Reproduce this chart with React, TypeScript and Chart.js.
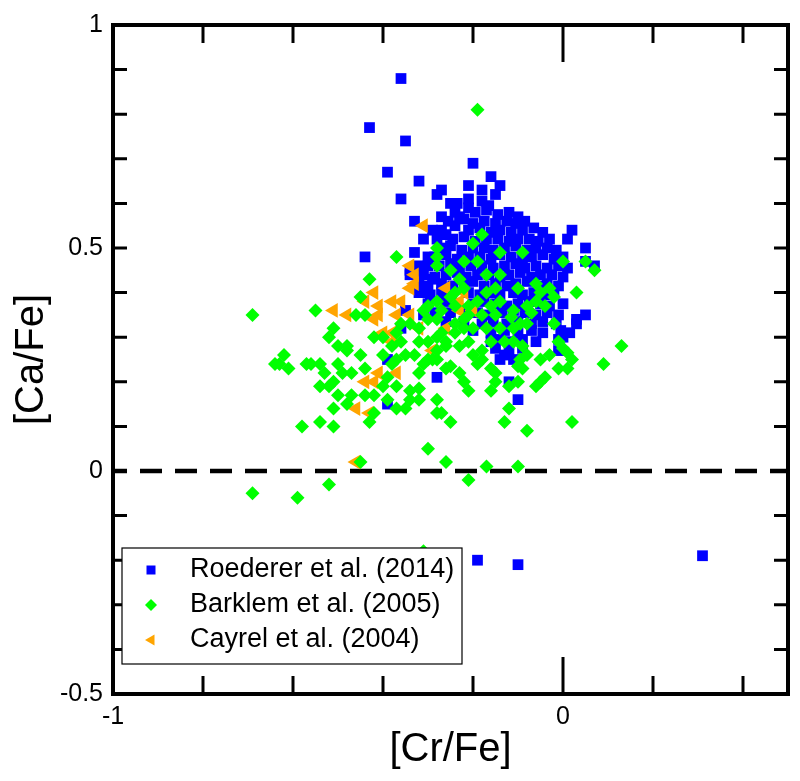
import React, { useEffect, useRef } from 'react';
import { Chart, registerables } from 'chart.js';

Chart.register(...registerables);

const FONT = '"Liberation Sans", Arial, Helvetica, sans-serif';

const seriesNames = ['Roederer et al. (2014)', 'Barklem et al. (2005)', 'Cayrel et al. (2004)'];
const seriesColors = ['#0000ff', '#00ff00', '#ffa500'];
const xTitle = '[Cr/Fe]';
const yTitle = '[Ca/Fe]';
const xTickLabels = ['-1', '0'];
const yTickLabels = ['-0.5', '0', '0.5', '1'];
const xMajorTicks = [-1, 0];
const xMinorTicks = [-0.8, -0.6, -0.4, -0.2, 0.2, 0.4];
const yMinorTicks = [-0.4, -0.3, -0.2, -0.1, 0, 0.1, 0.2, 0.3, 0.4, 0.5, 0.6, 0.7, 0.8, 0.9];
const zeroLine: [number, number][] = [[-1, 0], [0.5, 0]];

const roederer: [number, number][] = [
  [-0.36, 0.88], [-0.43, 0.77], [-0.35, 0.74], [-0.39, 0.67], [-0.20, 0.69], [-0.32, 0.65], [-0.36, 0.61],
  [-0.16, 0.66], [-0.14, 0.64], [-0.33, 0.56], [-0.44, 0.48], [-0.27, 0.57], [-0.28, 0.62], [-0.27, 0.63],
  [-0.21, 0.64], [-0.18, 0.63], [-0.15, 0.62], [-0.25, 0.60], [-0.24, 0.58], [-0.21, 0.59], [-0.21, 0.61],
  [0.02, 0.54], [0.05, 0.50], [0.07, 0.46], [0.05, 0.47], [0.01, 0.52], [0.05, 0.35], [0.03, 0.33],
  [-0.19, -0.20], [-0.10, -0.21], [0.31, -0.19],
  [-0.10, 0.16], [-0.12, 0.20], [-0.28, 0.21], [-0.11, 0.25], [-0.14, 0.25], [-0.01, 0.27], [0.0, 0.30],
  [-0.35, 0.36], [-0.36, 0.32], [-0.39, 0.25], [-0.39, 0.15], [-0.31, 0.35], [-0.34, 0.45], [-0.32, 0.40],
  [-0.29, 0.54], [-0.31, 0.52], [-0.33, 0.49], [-0.30, 0.48], [-0.34, 0.44], [-0.32, 0.46], [-0.31, 0.40],
  [-0.29, 0.43], [-0.26, 0.53], [-0.24, 0.55], [-0.23, 0.57],
  [-0.235, 0.60], [-0.18, 0.605], [-0.165, 0.595],
  [-0.195, 0.58], [-0.17, 0.585], [-0.145, 0.575], [-0.12, 0.58], [-0.10, 0.57],
  [-0.255, 0.56], [-0.22, 0.565], [-0.20, 0.555], [-0.175, 0.56], [-0.15, 0.555], [-0.125, 0.56], [-0.105, 0.555], [-0.085, 0.56],
  [-0.27, 0.54], [-0.21, 0.54], [-0.185, 0.545], [-0.16, 0.535], [-0.14, 0.54], [-0.115, 0.535], [-0.09, 0.54], [-0.065, 0.545], [-0.045, 0.535],
  [-0.28, 0.52], [-0.245, 0.52], [-0.22, 0.525], [-0.195, 0.515], [-0.17, 0.52], [-0.145, 0.52], [-0.12, 0.515], [-0.10, 0.52], [-0.075, 0.52], [-0.055, 0.515], [-0.03, 0.52],
  [-0.27, 0.50], [-0.25, 0.505], [-0.225, 0.495], [-0.20, 0.50], [-0.175, 0.50], [-0.155, 0.495], [-0.13, 0.50], [-0.105, 0.505], [-0.08, 0.495], [-0.06, 0.50], [-0.035, 0.50], [-0.015, 0.495],
  [-0.285, 0.48], [-0.26, 0.485], [-0.235, 0.475], [-0.21, 0.48], [-0.185, 0.48], [-0.16, 0.475], [-0.14, 0.485], [-0.115, 0.48], [-0.09, 0.475], [-0.07, 0.48], [-0.045, 0.485], [-0.02, 0.475], [0.0, 0.48],
  [-0.30, 0.46], [-0.275, 0.46], [-0.25, 0.465], [-0.23, 0.455], [-0.205, 0.46], [-0.18, 0.46], [-0.155, 0.455], [-0.13, 0.46], [-0.105, 0.465], [-0.085, 0.455], [-0.06, 0.46], [-0.035, 0.455], [-0.01, 0.46], [0.01, 0.455],
  [-0.31, 0.44], [-0.285, 0.435], [-0.26, 0.44], [-0.235, 0.445], [-0.215, 0.435], [-0.19, 0.44], [-0.165, 0.44], [-0.14, 0.435], [-0.12, 0.44], [-0.095, 0.445], [-0.07, 0.435], [-0.05, 0.44], [-0.025, 0.44], [0.0, 0.435],
  [-0.32, 0.42], [-0.30, 0.415], [-0.27, 0.42], [-0.245, 0.415], [-0.22, 0.42], [-0.20, 0.425], [-0.175, 0.415], [-0.15, 0.42], [-0.125, 0.415], [-0.105, 0.42], [-0.08, 0.425], [-0.055, 0.415], [-0.035, 0.42], [-0.01, 0.415],
  [-0.295, 0.395], [-0.27, 0.40], [-0.25, 0.395], [-0.21, 0.40], [-0.185, 0.395], [-0.16, 0.40], [-0.14, 0.395], [-0.11, 0.40], [-0.09, 0.395], [-0.065, 0.40], [-0.04, 0.395], [-0.02, 0.40],
  [-0.30, 0.375], [-0.26, 0.38], [-0.235, 0.375], [-0.20, 0.375], [-0.175, 0.38], [-0.15, 0.375], [-0.125, 0.37], [-0.10, 0.375], [-0.075, 0.38], [-0.05, 0.375], [-0.03, 0.37], [0.0, 0.375],
  [-0.285, 0.355], [-0.25, 0.355], [-0.215, 0.36], [-0.19, 0.355], [-0.165, 0.35], [-0.135, 0.355], [-0.11, 0.36], [-0.085, 0.355], [-0.06, 0.35], [-0.035, 0.355], [-0.01, 0.35],
  [-0.26, 0.335], [-0.22, 0.335], [-0.18, 0.33], [-0.155, 0.335], [-0.125, 0.33], [-0.10, 0.335], [-0.07, 0.33], [-0.045, 0.335], [-0.015, 0.33], [0.03, 0.34],
  [-0.20, 0.315], [-0.16, 0.31], [-0.13, 0.315], [-0.10, 0.31], [-0.07, 0.315], [-0.045, 0.31], [-0.005, 0.315], [0.015, 0.31],
  [-0.16, 0.29], [-0.14, 0.295], [-0.12, 0.29], [-0.09, 0.295], [-0.06, 0.29], [-0.01, 0.295],
  [-0.15, 0.275], [-0.12, 0.27], [-0.09, 0.275], [-0.13, 0.26],
];

const barklem: [number, number][] = [
  [-0.19, 0.81],
  [-0.69, -0.05], [-0.59, -0.06], [-0.52, -0.03], [-0.45, 0.02], [-0.30, 0.05], [-0.26, 0.02], [-0.21, -0.02], [-0.17, 0.01], [-0.10, 0.01], [-0.08, 0.09], [-0.31, -0.18],
  [-0.69, 0.35], [-0.55, 0.36], [-0.37, 0.48], [-0.43, 0.43], [-0.45, 0.39], [-0.46, 0.35], [-0.44, 0.35], [-0.51, 0.32], [-0.52, 0.30], [-0.50, 0.28], [-0.48, 0.28], [-0.48, 0.27],
  [-0.62, 0.26], [-0.64, 0.24], [-0.63, 0.24], [-0.61, 0.23], [-0.57, 0.24], [-0.56, 0.24], [-0.54, 0.24], [-0.53, 0.22], [-0.50, 0.24], [-0.49, 0.22], [-0.47, 0.22], [-0.45, 0.26], [-0.44, 0.23],
  [-0.51, 0.20], [-0.54, 0.19], [-0.52, 0.19], [-0.50, 0.17], [-0.47, 0.17], [-0.51, 0.14], [-0.48, 0.15], [-0.58, 0.10], [-0.54, 0.11], [-0.51, 0.10], [-0.44, 0.17], [-0.42, 0.17], [-0.43, 0.11], [-0.42, 0.13],
  [-0.40, 0.26], [-0.37, 0.25], [-0.39, 0.21], [-0.40, 0.19], [-0.37, 0.19], [-0.39, 0.16], [-0.37, 0.14], [-0.35, 0.14], [-0.34, 0.18], [-0.32, 0.185], [-0.34, 0.16], [-0.32, 0.16], [-0.32, 0.22], [-0.31, 0.24], [-0.29, 0.25], [-0.28, 0.27], [-0.26, 0.28], [-0.28, 0.16], [-0.28, 0.13], [-0.27, 0.13], [-0.25, 0.11],
  [-0.35, 0.26], [-0.33, 0.26], [-0.32, 0.29], [-0.32, 0.32], [-0.34, 0.33], [-0.36, 0.33], [-0.37, 0.31], [-0.36, 0.29], [-0.38, 0.28], [-0.42, 0.30], [-0.40, 0.30], [-0.38, 0.24],
  [-0.30, 0.37], [-0.28, 0.38], [-0.25, 0.39], [-0.24, 0.37],
  [-0.28, 0.50], [-0.28, 0.48], [-0.28, 0.46], [-0.25, 0.45],
  [-0.24, 0.40], [-0.22, 0.41],
  [-0.27, 0.31], [-0.24, 0.31], [-0.22, 0.32],
  [-0.22, 0.47], [-0.20, 0.51], [-0.14, 0.49], [-0.09, 0.49], [-0.18, 0.53], [-0.17, 0.44], [-0.14, 0.44], [0.0, 0.47], [0.05, 0.47], [0.07, 0.45], [-0.10, 0.41], [-0.17, 0.40], [-0.06, 0.42], [-0.05, 0.40], [-0.03, 0.41], [-0.02, 0.39], [0.03, 0.40], [-0.06, 0.38], [-0.04, 0.37],
  [-0.21, 0.37], [-0.19, 0.38], [-0.16, 0.37], [-0.14, 0.38], [-0.11, 0.36],
  [-0.31, 0.36], [-0.27, 0.36], [-0.21, 0.35], [-0.18, 0.35], [-0.15, 0.35], [-0.115, 0.345],
  [-0.08, 0.37], [-0.07, 0.355], [-0.02, 0.33],
  [-0.30, 0.34], [-0.28, 0.34], [-0.24, 0.33], [-0.22, 0.34], [-0.20, 0.32], [-0.17, 0.32], [-0.14, 0.32], [-0.11, 0.32], [-0.095, 0.33], [-0.08, 0.33],
  [0.13, 0.28], [0.09, 0.24],
  [-0.01, 0.29], [0.0, 0.275], [0.01, 0.265], [0.02, 0.25], [0.01, 0.23], [-0.05, 0.25], [-0.03, 0.26],
  [-0.30, 0.29], [-0.28, 0.30], [-0.26, 0.29], [-0.23, 0.28], [-0.21, 0.29], [-0.18, 0.27], [-0.16, 0.29], [-0.13, 0.29], [-0.11, 0.29], [-0.09, 0.28], [-0.08, 0.26],
  [-0.30, 0.25], [-0.28, 0.25], [-0.26, 0.23], [-0.25, 0.235], [-0.23, 0.22], [-0.22, 0.20], [-0.20, 0.26], [-0.18, 0.25], [-0.16, 0.23], [-0.15, 0.22], [-0.16, 0.18], [-0.15, 0.20], [-0.21, 0.18], [-0.19, 0.24],
  [-0.10, 0.235], [-0.09, 0.23], [-0.095, 0.25], [-0.12, 0.19], [-0.10, 0.20], [-0.06, 0.19], [-0.05, 0.20], [-0.04, 0.21], [-0.01, 0.23],
  [-0.12, 0.14], [-0.13, 0.11], [0.02, 0.11],
  [-0.15, 0.41], [-0.23, 0.43], [-0.19, 0.47],
];

const cayrel: [number, number][] = [
  [-0.31, 0.55], [-0.34, 0.46], [-0.33, 0.44], [-0.33, 0.42], [-0.34, 0.41], [-0.42, 0.40], [-0.44, 0.38],
  [-0.41, 0.37], [-0.41, 0.35], [-0.38, 0.38], [-0.36, 0.38], [-0.51, 0.36], [-0.48, 0.35], [-0.42, 0.34],
  [-0.37, 0.35], [-0.34, 0.35], [-0.40, 0.31], [-0.38, 0.31], [-0.38, 0.29], [-0.32, 0.32], [-0.26, 0.41],
  [-0.22, 0.40], [-0.23, 0.38], [-0.23, 0.36], [-0.20, 0.36], [-0.26, 0.32], [-0.29, 0.27], [-0.41, 0.22],
  [-0.37, 0.22], [-0.44, 0.20], [-0.42, 0.20], [-0.46, 0.14], [-0.43, 0.13], [-0.46, 0.02],
];

const toXY = (arr: [number, number][]) => arr.map(([x, y]) => ({ x, y }));

function drawMarker(ctx: CanvasRenderingContext2D, kind: number, x: number, y: number) {
  ctx.fillStyle = seriesColors[kind];
  ctx.beginPath();
  if (kind === 0) {
    ctx.rect(x - 4.5, y - 4.5, 9, 9);
  } else if (kind === 1) {
    ctx.moveTo(x, y - 6); ctx.lineTo(x + 6, y); ctx.lineTo(x, y + 6); ctx.lineTo(x - 6, y);
    ctx.closePath();
  } else {
    ctx.moveTo(x - 6, y); ctx.lineTo(x + 3.5, y - 5.5); ctx.lineTo(x + 3.5, y + 5.5);
    ctx.closePath();
  }
  ctx.fill();
}

const decorPlugin = {
  id: 'decor',
  afterDatasetsDraw(chart: any) {
    const { ctx, chartArea, scales } = chart;
    const { left, right, top, bottom } = chartArea;
    const xs = scales.x;
    const ys = scales.y;
    ctx.save();
    ctx.strokeStyle = '#000';
    ctx.lineWidth = 3;
    ctx.lineCap = 'butt';
    ctx.beginPath();
    for (const v of yMinorTicks) {
      const p = ys.getPixelForValue(v);
      ctx.moveTo(left, p); ctx.lineTo(left + 14, p);
      ctx.moveTo(right, p); ctx.lineTo(right - 14, p);
    }
    for (const v of xMinorTicks) {
      const p = xs.getPixelForValue(v);
      ctx.moveTo(p, bottom); ctx.lineTo(p, bottom - 18);
      ctx.moveTo(p, top); ctx.lineTo(p, top + 18);
    }
    for (const v of xMajorTicks) {
      const p = xs.getPixelForValue(v);
      ctx.moveTo(p, bottom); ctx.lineTo(p, bottom - 37);
      ctx.moveTo(p, top); ctx.lineTo(p, top + 37);
    }
    ctx.stroke();
    ctx.lineWidth = 4;
    ctx.lineJoin = 'miter';
    ctx.strokeRect(left, top, right - left, bottom - top);

    // legend box
    const lx = left + 9;
    const ly = bottom - 146;
    const lw = 340;
    const lh = 116;
    ctx.fillStyle = '#fff';
    ctx.fillRect(lx, ly, lw, lh);
    ctx.lineWidth = 1.2;
    ctx.strokeRect(lx, ly, lw, lh);
    ctx.font = `27px ${FONT}`;
    ctx.textBaseline = 'middle';
    ctx.textAlign = 'left';
    seriesNames.forEach((name, i) => {
      const ry = ly + 22 + i * 35;
      drawMarker(ctx, i, lx + 29, ry);
      ctx.fillStyle = '#000';
      ctx.fillText(name, lx + 68, ry);
    });
    ctx.restore();
  },
};

export default function App() {
  const canvasRef = useRef<HTMLCanvasElement | null>(null);

  useEffect(() => {
    const canvas = canvasRef.current;
    if (!canvas) return;
    const chart = new Chart(canvas, {
      type: 'scatter',
      data: {
        datasets: [
          {
            label: seriesNames[0],
            data: toXY(roederer),
            pointStyle: 'rect',
            pointRadius: 7.6,
            pointHoverRadius: 7.6,
            backgroundColor: seriesColors[0],
            pointBackgroundColor: seriesColors[0],
            pointBorderWidth: 0,
            borderWidth: 0,
            order: 3,
          },
          {
            label: seriesNames[1],
            data: toXY(barklem),
            pointStyle: 'rectRot',
            pointRadius: 7,
            pointHoverRadius: 7,
            backgroundColor: seriesColors[1],
            pointBackgroundColor: seriesColors[1],
            pointBorderWidth: 0,
            borderWidth: 0,
            order: 1,
          },
          {
            label: seriesNames[2],
            data: toXY(cayrel),
            pointStyle: 'triangle',
            pointRotation: -90,
            pointRadius: 8.5,
            pointHoverRadius: 8.5,
            backgroundColor: seriesColors[2],
            pointBackgroundColor: seriesColors[2],
            pointBorderWidth: 0,
            borderWidth: 0,
            order: 2,
          },
          {
            label: 'zero',
            data: toXY(zeroLine),
            showLine: true,
            pointRadius: 0,
            pointHoverRadius: 0,
            borderColor: '#000',
            borderWidth: 4.5,
            borderDash: [22, 13],
            borderDashOffset: 8,
            order: 4,
          } as any,
        ],
      },
      options: {
        animation: false,
        responsive: false,
        events: [],
        layout: { padding: { top: 18, right: 12, left: 0, bottom: 0 } },
        plugins: {
          legend: { display: false },
          tooltip: { enabled: false },
        },
        scales: {
          x: {
            type: 'linear',
            min: -1,
            max: 0.5,
            grid: { display: false, drawTicks: false },
            border: { display: false },
            ticks: {
              stepSize: 0.2,
              autoSkip: false,
              maxRotation: 0,
              minRotation: 0,
              padding: 8,
              color: '#000',
              font: { family: FONT, size: 25 },
              callback: (v: any) => (xTickLabels.includes(String(v)) ? String(v) : ''),
            },
            title: {
              display: true,
              text: xTitle,
              color: '#000',
              font: { family: FONT, size: 40 },
              padding: { top: 0, bottom: 7 },
            },
            afterFit: (s: any) => { s.height = 87; },
          },
          y: {
            type: 'linear',
            min: -0.5,
            max: 1,
            grid: { display: false, drawTicks: false },
            border: { display: false },
            ticks: {
              stepSize: 0.1,
              autoSkip: false,
              padding: 10,
              color: '#000',
              font: { family: FONT, size: 25 },
              callback: (v: any) => (yTickLabels.includes(String(v)) ? String(v) : ''),
            },
            title: {
              display: true,
              text: yTitle,
              color: '#000',
              font: { family: FONT, size: 40 },
              padding: { top: 8, bottom: 0 },
            },
            afterFit: (s: any) => { s.width = 113; },
          },
        },
      } as any,
      plugins: [decorPlugin],
    });
    return () => chart.destroy();
  }, []);

  return (
    <div style={{ position: 'fixed', left: 0, top: 0, width: 800, height: 781, background: '#fff' }}>
      <canvas ref={canvasRef} width={800} height={781} style={{ display: 'block', width: 800, height: 781 }} />
    </div>
  );
}
